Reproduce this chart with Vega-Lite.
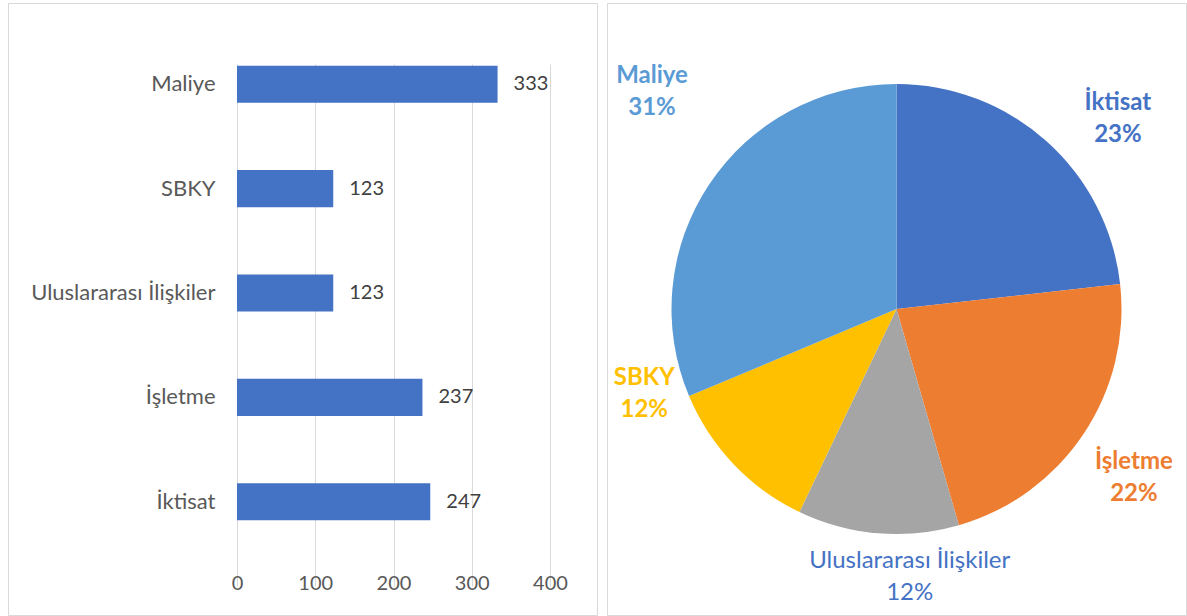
{
  "$schema": "https://vega.github.io/schema/vega-lite/v6.json",
  "padding": {"left": 7, "top": 2, "right": 1, "bottom": 2},
  "spacing": 10,
  "bounds": "flush",
  "config": {
    "font": "Lato",
    "view": {"stroke": "#d9d9d9", "strokeWidth": 1}
  },
  "datasets": {
    "depts": [
      {"rank": 1, "dept": "İktisat", "count": 247, "lbl": "İktisat\n23%"},
      {"rank": 2, "dept": "İşletme", "count": 237, "lbl": "İşletme\n22%"},
      {"rank": 3, "dept": "Uluslararası İlişkiler", "count": 123, "lbl": "Uluslararası İlişkiler\n12%"},
      {"rank": 4, "dept": "SBKY", "count": 123, "lbl": "SBKY\n12%"},
      {"rank": 5, "dept": "Maliye", "count": 333, "lbl": "Maliye\n31%"}
    ]
  },
  "hconcat": [
    {
      "width": 589,
      "height": 612,
      "data": {"name": "depts"},
      "encoding": {
        "y": {
          "field": "dept",
          "type": "nominal",
          "sort": ["Maliye", "SBKY", "Uluslararası İlişkiler", "İşletme", "İktisat"],
          "scale": {"range": [29, 551], "paddingInner": 0.645, "paddingOuter": 0.3225},
          "axis": {
            "title": null,
            "orient": "left",
            "offset": -207,
            "labelPadding": 0,
            "labelLimit": 0,
            "ticks": false,
            "domain": false,
            "grid": false,
            "labelFontSize": 22,
            "labelColor": "#595959"
          }
        },
        "x": {
          "field": "count",
          "type": "quantitative",
          "scale": {"domain": [0, 400], "range": [229, 542], "nice": false, "zero": true},
          "axis": {
            "title": null,
            "orient": "bottom",
            "offset": -44,
            "values": [0, 100, 200, 300, 400],
            "ticks": false,
            "domain": false,
            "grid": true,
            "gridColor": "#d9d9d9",
            "gridWidth": 1,
            "labelFlush": false,
            "labelOverlap": false,
            "labelPadding": 2,
            "labelFontSize": 20,
            "labelColor": "#595959"
          }
        }
      },
      "layer": [
        {"mark": {"type": "bar", "color": "#4472C4"}},
        {
          "mark": {"type": "text", "align": "left", "baseline": "middle", "dx": 16, "fontSize": 20, "color": "#404040"},
          "encoding": {"text": {"field": "count", "type": "quantitative"}}
        }
      ]
    },
    {
      "width": 579,
      "height": 612,
      "view": {"stroke": "#d9d9d9", "strokeWidth": 1},
      "data": {"name": "depts"},
      "encoding": {
        "theta": {"field": "count", "type": "quantitative", "stack": true},
        "order": {"field": "rank", "type": "quantitative"},
        "detail": {"field": "dept", "type": "nominal"}
      },
      "layer": [
        {
          "mark": {"type": "arc", "outerRadius": 225},
          "encoding": {
            "color": {
              "field": "dept",
              "type": "nominal",
              "scale": {
                "domain": ["İktisat", "İşletme", "Uluslararası İlişkiler", "SBKY", "Maliye"],
                "range": ["#4472C4", "#ED7D31", "#A5A5A5", "#FFC000", "#5B9BD5"]
              },
              "legend": null
            }
          }
        },
        {
          "mark": {"type": "text", "radius": 290, "dx": 28, "dy": 10, "fontWeight": "bold", "lineBreak": "\n", "lineHeight": 32, "color": "#4472C4", "baseline": "middle"},
          "encoding": {
            "text": {"condition": {"test": "datum.dept === 'İktisat'", "field": "lbl"}, "value": ""},
            "size": {"condition": {"test": "datum.dept === 'İktisat'", "value": 24}, "value": 0}
          }
        },
        {
          "mark": {"type": "text", "radius": 282, "dx": 3, "dy": -4, "fontWeight": "bold", "lineBreak": "\n", "lineHeight": 32, "color": "#ED7D31", "baseline": "middle"},
          "encoding": {
            "text": {"condition": {"test": "datum.dept === 'İşletme'", "field": "lbl"}, "value": ""},
            "size": {"condition": {"test": "datum.dept === 'İşletme'", "value": 24}, "value": 0}
          }
        },
        {
          "mark": {"type": "text", "radius": 252, "dx": 34, "dy": 1, "lineBreak": "\n", "lineHeight": 32, "color": "#4472C4", "baseline": "middle"},
          "encoding": {
            "text": {"condition": {"test": "datum.dept === 'Uluslararası İlişkiler'", "field": "lbl"}, "value": ""},
            "size": {"condition": {"test": "datum.dept === 'Uluslararası İlişkiler'", "value": 24}, "value": 0}
          }
        },
        {
          "mark": {"type": "text", "radius": 260, "dx": -64, "dy": -110, "fontWeight": "bold", "lineBreak": "\n", "lineHeight": 32, "color": "#FFC000", "baseline": "middle"},
          "encoding": {
            "text": {"condition": {"test": "datum.dept === 'SBKY'", "field": "lbl"}, "value": ""},
            "size": {"condition": {"test": "datum.dept === 'SBKY'", "value": 24}, "value": 0}
          }
        },
        {
          "mark": {"type": "text", "radius": 290, "dx": -3, "dy": -72, "fontWeight": "bold", "lineBreak": "\n", "lineHeight": 32, "color": "#5B9BD5", "baseline": "middle"},
          "encoding": {
            "text": {"condition": {"test": "datum.dept === 'Maliye'", "field": "lbl"}, "value": ""},
            "size": {"condition": {"test": "datum.dept === 'Maliye'", "value": 24}, "value": 0}
          }
        }
      ]
    }
  ]
}
